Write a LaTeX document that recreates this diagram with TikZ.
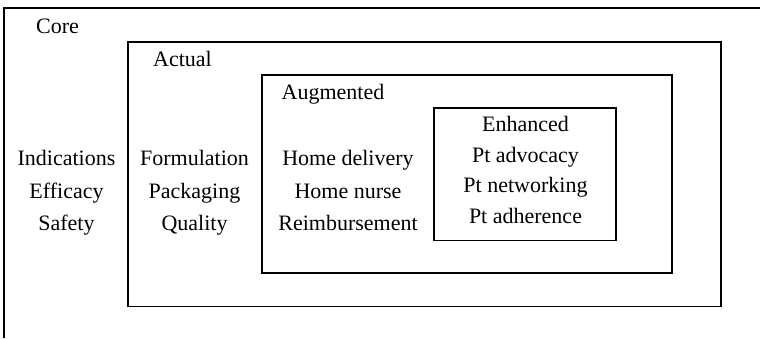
\documentclass[tikz,border=0pt]{standalone}
\usepackage{fontspec}
\setmainfont{Liberation Serif}
\begin{document}
\begin{tikzpicture}[x=1pt,y=-1pt,
  frame/.style={draw=black,line width=1.8pt},
  lbl/.style={anchor=base west,inner sep=0pt,font=\fontsize{22}{26}\selectfont},
  item/.style={anchor=base,inner sep=0pt,font=\fontsize{22}{26}\selectfont}]
\useasboundingbox (0,0) rectangle (760,338);
% Core (open to right and bottom)
\draw[frame] (4,338) -- (4,8) -- (760,8);
\draw[frame] (128,42) rectangle (721,306.5);
\draw[frame] (262,75) rectangle (672,273);
\draw[frame] (434,108) rectangle (616,240.5);
% titles
\node[lbl] (tcore) at (36,33) {Core};
\node[lbl] (tact) at (153,66) {Actual};
\node[lbl] (taug) at (281.5,99) {Augmented};
% core items
\node[item] (c1) at (66.5,165) {Indications};
\node[item] (c2) at (66.5,198) {Efficacy};
\node[item] (c3) at (66.5,230.5) {Safety};
% actual items
\node[item] (a1) at (194.5,165) {Formulation};
\node[item] (a2) at (194.5,198) {Packaging};
\node[item] (a3) at (194.5,230.5) {Quality};
% augmented items
\node[item] (g1) at (348,165) {Home delivery};
\node[item] (g2) at (348,198) {Home nurse};
\node[item] (g3) at (348,230.5) {Reimbursement};
% enhanced items
\node[item] (e0) at (525.5,131.7) {Enhanced};
\node[item] (e1) at (525.5,162.3) {Pt advocacy};
\node[item] (e2) at (525.5,192.9) {Pt networking};
\node[item] (e3) at (525.5,223.3) {Pt adherence};
\end{tikzpicture}
\end{document}
